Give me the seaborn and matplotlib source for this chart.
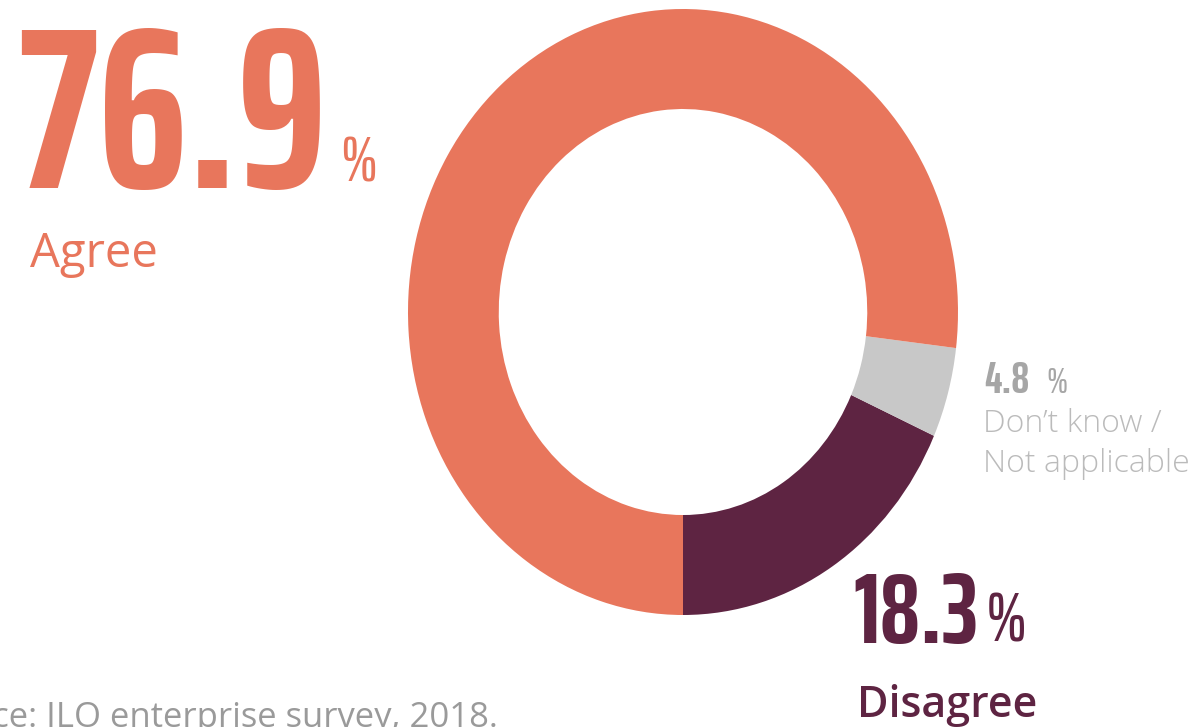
import matplotlib
matplotlib.use("Agg")
import matplotlib.pyplot as plt
import seaborn as sns

# ---- data ----
categories = ["Disagree", "Don't know / Not applicable", "Agree"]
shares = [18.3, 4.8, 76.9]
value_labels = ["18.3", "4.8", "76.9"]
colors = ["#5E2442", "#C8C8C8", "#E8765C"]
source_text = "Source: ILO enterprise survey, 2018."

sns.set_theme(style="white")
plt.rcParams["font.family"] = ["Open Sans", "DejaVu Sans"]

W, H = 1199, 727
fig = plt.figure(figsize=(W / 100, H / 100), dpi=100)
fig.patch.set_facecolor("white")

def fx(x):
    return x / W

def fy(y):
    return 1 - y / H

# donut (slightly taller than wide, as in the reference)
cx, cy, rx, ry = 683, 312, 275, 303
ax = fig.add_axes([fx(cx - rx), fy(cy + ry), 2 * rx / W, 2 * ry / H])
ax.pie(shares, colors=colors, startangle=270, counterclock=True,
       wedgeprops=dict(width=0.33, edgecolor="none", linewidth=0))
ax.set_aspect("auto")
ax.set_xlim(-1, 1)
ax.set_ylim(-1, 1)
ax.axis("off")

NUM = ["Saira ExtraCondensed", "DejaVu Sans"]
NW = 700

# Agree
fig.text(fx(17), fy(188), value_labels[2], fontsize=165, family=NUM, fontweight=NW,
         color=colors[2], ha="left", va="baseline")
fig.text(fx(340), fy(182), "%", fontsize=45, family=NUM, fontweight=500,
         color=colors[2], ha="left", va="baseline")
fig.text(fx(30), fy(267), categories[2], fontsize=34, color=colors[2],
         ha="left", va="baseline")

# Don't know
fig.text(fx(984), fy(393), value_labels[1], fontsize=32, family=NUM, fontweight=NW,
         color="#A6A6A6", ha="left", va="baseline")
fig.text(fx(1046), fy(393), "%", fontsize=26, family=NUM, fontweight=500,
         color="#A6A6A6", ha="left", va="baseline")
fig.text(fx(983), fy(432), "Don\u2019t know /", fontsize=23, color="#BBBBBB",
         fontweight="light", ha="left", va="baseline")
fig.text(fx(983), fy(472), "Not applicable", fontsize=23, color="#BBBBBB",
         fontweight="light", ha="left", va="baseline")

# Disagree
fig.text(fx(853), fy(643), value_labels[0], fontsize=72, family=NUM, fontweight=NW,
         color=colors[0], ha="left", va="baseline")
fig.text(fx(986), fy(642), "%", fontsize=50, family=NUM, fontweight=500,
         color=colors[0], ha="left", va="baseline")
fig.text(fx(857), fy(717), categories[0], fontsize=31, color=colors[0],
         fontweight="semibold", ha="left", va="baseline")

# source (cut at the edges like the reference)
fig.text(fx(498), fy(727), source_text, fontsize=24.9, color="#9A9A9A",
         ha="right", va="baseline")

fig.savefig("out.png", dpi=100, facecolor="white")
